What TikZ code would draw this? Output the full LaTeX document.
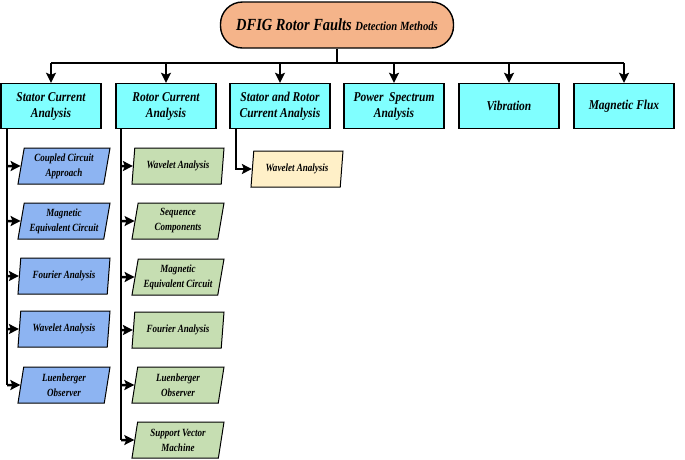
\documentclass[tikz,border=0pt]{standalone}
\usepackage{fontspec}
\setmainfont{Liberation Serif}
\usetikzlibrary{shapes.geometric,arrows.meta}
\definecolor{cyanbox}{HTML}{80FFFF}
\definecolor{bluebox}{HTML}{8DB4F2}
\definecolor{greenbox}{HTML}{C6DEB2}
\definecolor{yellowbox}{HTML}{FFF0C8}
\definecolor{peach}{HTML}{F5B48A}
\tikzset{
  lvl/.style={draw=black, line width=1.4pt, fill=cyanbox, minimum width=100pt, minimum height=45pt,
    align=center, inner sep=1pt, font=\fontsize{13.5}{16}\selectfont\bfseries\itshape\addfontfeature{FakeStretch=0.85}},
  para/.style={draw=black, line width=1pt, trapezium, trapezium left angle=77, trapezium right angle=103,
    trapezium stretches body=true, minimum width=92pt, minimum height=36pt, inner xsep=0pt, inner ysep=1pt,
    align=center, font=\fontsize{11}{15}\selectfont\bfseries\itshape\addfontfeature{FakeStretch=0.82}},
  bpara/.style={para, fill=bluebox},
  gpara/.style={para, fill=greenbox},
  ypara/.style={para, fill=yellowbox},
  conn/.style={line width=2.5pt, draw=black},
  arr/.style={conn, -{Stealth[length=10pt,width=10pt,inset=2pt]}},
}
\begin{document}
\begin{tikzpicture}[x=1pt,y=-1pt]
\useasboundingbox (0,0) rectangle (685,459);
% title
\node[draw=black, line width=1.4pt, fill=peach, rounded corners=22pt, minimum width=233pt, minimum height=46pt,
  font=\bfseries\itshape\addfontfeature{FakeStretch=0.85}] (top) at (337,25)
  {\fontsize{17}{19}\selectfont DFIG Rotor Faults \fontsize{12.5}{14}\selectfont Detection Methods};
% level 1
\node[lvl] (s) at (51,106) {Stator Current\\Analysis};
\node[lvl] (r) at (166,106) {Rotor Current\\Analysis};
\node[lvl] (sr) at (280,106) {Stator and Rotor\\Current Analysis};
\node[lvl] (ps) at (394,106) {Power\ \ Spectrum\\Analysis};
\node[lvl] (v) at (509,106) {Vibration};
\node[lvl] (mf) at (624,106) {Magnetic Flux};
% trunk
\coordinate (j) at (337,63);
\draw[conn] (top.south) -- (j);
\draw[conn] (s.north |- j) -- (mf.north |- j);
\foreach \n in {s,r,sr,ps,v,mf} \draw[arr] (\n.north |- j) -- (\n.north);
% stator branch
\node[bpara] (s1) at (64,166) {Coupled Circuit\\Approach};
\node[bpara] (s2) at (64,221) {Magnetic\\Equivalent Circuit};
\node[bpara] (s3) at (64,276) {Fourier Analysis};
\node[bpara] (s4) at (64,329) {Wavelet Analysis};
\node[bpara] (s5) at (64,385) {Luenberger\\Observer};
\coordinate (sx) at (7,128);
\draw[conn] (sx) -- (sx |- s5);
\foreach \n in {s1,s2,s3,s4,s5} \draw[arr] (sx |- \n) -- (\n.west);
% rotor branch
\node[gpara] (r1) at (178,166) {Wavelet Analysis};
\node[gpara] (r2) at (178,221) {Sequence\\Components};
\node[gpara] (r3) at (178,277) {Magnetic\\Equivalent Circuit};
\node[gpara] (r4) at (178,330) {Fourier Analysis};
\node[gpara] (r5) at (178,385) {Luenberger\\Observer};
\node[gpara] (r6) at (178,440) {Support Vector\\Machine};
\coordinate (rx) at (121,128);
\draw[conn] (rx) -- (rx |- r6);
\foreach \n in {r1,r2,r3,r4,r5,r6} \draw[arr] (rx |- \n) -- (\n.west);
% stator and rotor branch
\node[ypara] (sr1) at (297,169) {Wavelet Analysis};
\coordinate (srx) at (236,129);
\draw[arr] (srx) |- (sr1.west);
\end{tikzpicture}
\end{document}
